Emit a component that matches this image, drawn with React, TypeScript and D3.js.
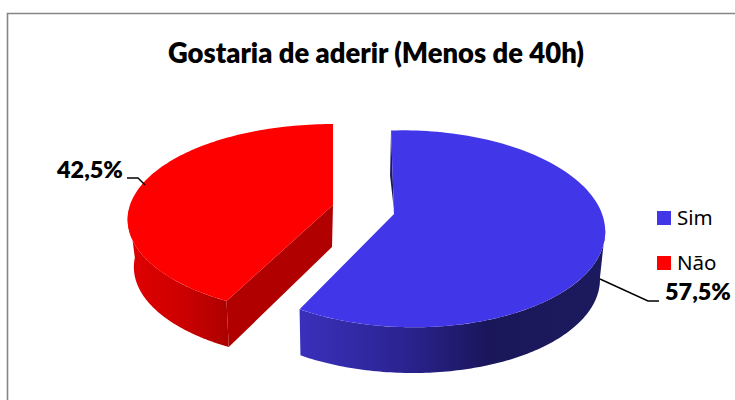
import React from "react";
import * as d3 from "d3";

const title = "Gostaria de aderir (Menos de 40h)";
const categories = ["Sim", "Não"];
const values = [57.5, 42.5];
const valueLabels = ["57,5%", "42,5%"];
const topColors = ["#4137E8", "#FF0000"];

const pieGen = d3.pie<number>().sort(null).value((d) => d)(values);

type V = { ax: number; ay: number; bx: number; by: number; B: number; D: number; A: number; k: number; l: number; sx: number };
const views: V[] = [
  { ax: 394, ay: 214, bx: 393, by: 262, B: 193.5, D: -3.4, A: 96, k: 0.15, l: -0.07, sx: 0.98 },
  { ax: 333, ay: 205, bx: 331, by: 253, B: 203, D: 0, A: 93.2, k: 0.151, l: 0, sx: 0.96 },
];
const redCutBackY = 247;

function project(v: V, a: number, bottom: boolean): [number, number] {
  const s = Math.sin(a), c = Math.cos(a);
  const d = 1 + v.k * c + v.l * s;
  const x = (v.B * s + v.D * c) / d;
  const y = (-v.A * c) / d;
  return bottom ? [v.bx + x * v.sx, v.by + y * 0.98] : [v.ax + x, v.ay + y];
}
const lineGen = d3.line();
const arcPts = (v: V, a0: number, a1: number, bottom: boolean) =>
  d3.range(0, 121).map((i) => project(v, a0 + ((a1 - a0) * i) / 120, bottom));

export default function App() {
  const blue = pieGen[0], red = pieGen[1];
  const bv = views[0], rv = views[1];
  const blueTop = [[bv.ax, bv.ay] as [number, number], ...arcPts(bv, blue.startAngle, blue.endAngle, false)];
  const redTop = [[rv.ax, rv.ay] as [number, number], ...arcPts(rv, red.startAngle, red.endAngle, false)];
  const blueWall = [
    ...arcPts(bv, 1.72, blue.endAngle, false),
    ...arcPts(bv, 1.72, blue.endAngle, true).reverse(),
  ];
  const redWall = [
    ...arcPts(rv, red.startAngle, 4.66, false),
    ...arcPts(rv, red.startAngle, 4.66, true).reverse(),
  ];
  const redCorner = project(rv, red.startAngle, false);
  const redCornerB = project(rv, red.startAngle, true);
  const redCut: [number, number][] = [[rv.ax, rv.ay], redCorner, redCornerB, [rv.ax - 1, redCutBackY]];
  const blueTopEdge = project(bv, 0, false);
  const blueSliver: [number, number][] = [blueTopEdge, [bv.ax, bv.ay], [bv.ax + 0.5, bv.ay + 1], [blueTopEdge[0] - 1, blueTopEdge[1] + 45]];
  return (
    <svg width={735} height={400} style={{ position: "absolute", left: 0, top: 0, background: "#fff" }}>
      <defs>
        <linearGradient id="bw" gradientUnits="userSpaceOnUse" x1={298} x2={605} y1={0} y2={0}>
          <stop offset="0" stopColor="#3A30BC" />
          <stop offset="0.35" stopColor="#2A2390" />
          <stop offset="0.62" stopColor="#1A165A" />
          <stop offset="1" stopColor="#1C1A5E" />
        </linearGradient>
        <linearGradient id="rw" gradientUnits="userSpaceOnUse" x1={128} x2={227} y1={0} y2={0}>
          <stop offset="0" stopColor="#E00000" />
          <stop offset="0.5" stopColor="#CF0000" />
          <stop offset="1" stopColor="#AE0000" />
        </linearGradient>
      </defs>
      <path d={`M735,13.5H7.5V400`} fill="none" stroke="#868686" strokeWidth={1.6} />
      <text x={376} y={63} textAnchor="middle" fontFamily="Lato" fontWeight={800} fontSize={27.4} fill="#000">{title}</text>

      <path d={lineGen(blueSliver)! + "Z"} fill="#1C1A5E" />
      <path d={lineGen(redWall)! + "Z"} fill="url(#rw)" />
      <path d={lineGen(redCut)! + "Z"} fill="#B00000" />
      <path d={lineGen(redTop)! + "Z"} fill={topColors[1]} />
      <path d={lineGen(blueWall)! + "Z"} fill="url(#bw)" />
      <path d={lineGen(blueTop)! + "Z"} fill={topColors[0]} />

      <path d="M127,178H138L145,185" fill="none" stroke="#000" strokeWidth={1.4} />
      <path d="M600,279L648,301H659" fill="none" stroke="#000" strokeWidth={1.4} />
      <text x={57} y={178} fontFamily="Lato" fontWeight={800} fontSize={23.4} fill="#000">{valueLabels[1]}</text>
      <text x={665} y={300} fontFamily="Lato" fontWeight={800} fontSize={23.4} fill="#000">{valueLabels[0]}</text>

      {categories.map((c, i) => (
        <g key={c}>
          <rect x={657} y={211 + i * 45} width={14} height={14} fill={topColors[i]} />
          <text x={677} y={225 + i * 45} fontFamily="Noto Sans" fontSize={20.5} fill="#000">{c}</text>
        </g>
      ))}
    </svg>
  );
}
